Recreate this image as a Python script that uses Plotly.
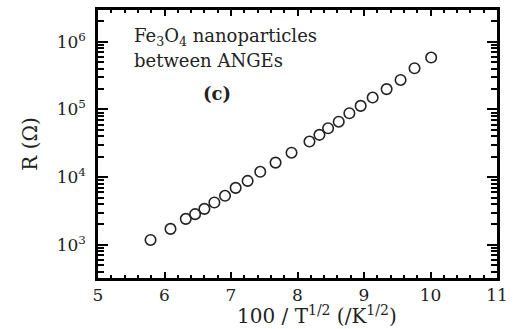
import plotly.graph_objects as go

inv_sqrt_T = [5.79, 6.09, 6.32, 6.46, 6.60, 6.75, 6.91, 7.07, 7.25, 7.44, 7.67, 7.91,
              8.18, 8.33, 8.46, 8.62, 8.78, 8.95, 9.13, 9.34, 9.55, 9.76, 10.01]
resistance = [1180, 1720, 2420, 2840, 3400, 4220, 5300, 6950, 8800, 12000, 16400, 23000,
              33600, 42200, 52800, 66000, 88000, 113000, 150000, 200000, 273000, 407000, 585000]

x_ticks = [5, 6, 7, 8, 9, 10, 11]
y_tickvals = [1e3, 1e4, 1e5, 1e6]
y_ticktext = ["10<sup>3</sup>", "10<sup>4</sup>", "10<sup>5</sup>", "10<sup>6</sup>"]

FONT = "DejaVu Serif, Liberation Serif, serif"
TXT = "#222"

fig = go.Figure()
fig.add_trace(go.Scatter(
    x=inv_sqrt_T, y=resistance, mode="markers",
    marker=dict(symbol="circle-open", size=10.5, color=TXT, line=dict(width=1.6, color=TXT)),
    showlegend=False,
))
# empty trace so the mirrored (top/right) tick axes are drawn
fig.add_trace(go.Scatter(x=[], y=[], xaxis="x2", yaxis="y2", showlegend=False, hoverinfo="skip"))

line_common = dict(showline=True, linecolor="black", linewidth=2.5, showgrid=False, zeroline=False,
                   ticks="inside", tickcolor="black", tickwidth=2)

x_common = dict(range=[5, 11], tickvals=x_ticks, ticklen=6,
                minor=dict(ticks="inside", dtick=0.2, ticklen=3.5, tickwidth=2, tickcolor="black", showgrid=False),
                **line_common)
y_common = dict(type="log", range=[2.51, 6.47], tickvals=y_tickvals, ticklen=10,
                minor=dict(ticks="inside", dtick="D1", ticklen=6, tickwidth=1.6, tickcolor="black", showgrid=False),
                **line_common)

fig.update_layout(
    xaxis=dict(**x_common, tickfont=dict(family=FONT, size=17, color=TXT)),
    yaxis=dict(**y_common, ticktext=y_ticktext, ticklabelstandoff=6,
               tickfont=dict(family=FONT, size=17, color=TXT)),
    xaxis2=dict(**x_common, overlaying="x", side="top", anchor="y", showticklabels=False),
    yaxis2=dict(**y_common, overlaying="y", side="right", anchor="x", showticklabels=False),
)

# axis titles
fig.add_annotation(x=0.548, y=-0.138, xref="paper", yref="paper", xanchor="center", yanchor="middle",
                   text="100 / T<sup>1/2</sup> (/K<sup>1/2</sup>)", showarrow=False,
                   font=dict(family=FONT, size=20, color=TXT))
fig.add_annotation(x=-0.171, y=0.50, xref="paper", yref="paper", xanchor="center", yanchor="middle",
                   text="R (Ω)", textangle=-90, showarrow=False,
                   font=dict(family=FONT, size=20, color=TXT))

# in-plot labels
fig.add_annotation(x=0.086, y=0.9, xref="paper", yref="paper", xanchor="left", yanchor="middle",
                   text="Fe<sub>3</sub>O<sub>4</sub> nanoparticles", showarrow=False,
                   font=dict(family=FONT, size=18, color=TXT))
fig.add_annotation(x=0.086, y=0.812, xref="paper", yref="paper", xanchor="left", yanchor="middle",
                   text="between ANGEs", showarrow=False,
                   font=dict(family=FONT, size=18, color=TXT))
fig.add_annotation(x=0.298, y=0.69, xref="paper", yref="paper", xanchor="center", yanchor="middle",
                   text="<b>(c)</b>", showarrow=False,
                   font=dict(family=FONT, size=18, color=TXT))

fig.update_layout(
    width=518, height=329,
    margin=dict(l=98, r=11, t=10, b=51),
    paper_bgcolor="white", plot_bgcolor="white",
)

fig.write_html("out.html")
